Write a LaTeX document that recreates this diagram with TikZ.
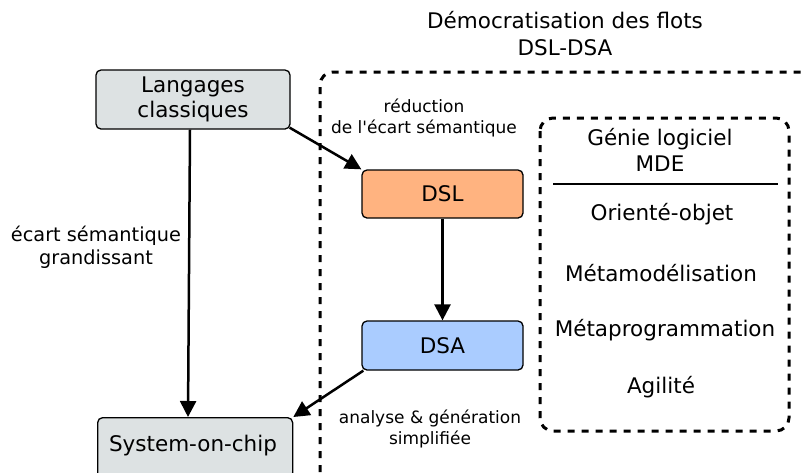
\documentclass[tikz,border=0pt]{standalone}
\usepackage{fontspec}
\setmainfont{DejaVu Sans}[Ligatures=TeXOff]
\usetikzlibrary{arrows.meta}
\definecolor{boxgray}{HTML}{DDE2E3}
\definecolor{dslorange}{HTML}{FFB380}
\definecolor{dsablue}{HTML}{AACCFF}
\tikzset{
  box/.style={draw=black, line width=1.3pt, rounded corners=5pt, align=center,
    font=\fontsize{21.5}{25}\selectfont, inner sep=0pt},
  conn/.style={line width=2.5pt, -{Triangle[length=16pt,width=16pt]}},
  zone/.style={line width=3pt, dash pattern=on 7pt off 7pt, rounded corners=13pt},
  lbl/.style={align=center, font=\fontsize{17}{21}\selectfont, inner sep=0pt},
  item/.style={align=center, font=\fontsize{21.5}{26}\selectfont, inner sep=0pt},
}
\begin{document}
\begin{tikzpicture}[x=1pt,y=-1pt]
\useasboundingbox (0,0) rectangle (805,472);

% outer region, open to the right and bottom
\draw[zone] (320,472) -- (320,72) -- (805,72);
% inner region
\draw[zone] (540,118) rectangle (789,431);

% boxes
\node[box, fill=boxgray, minimum width=194pt, minimum height=59pt] (lang) at (193,99.5) {Langages\\classiques};
\node[box, fill=boxgray, minimum width=195pt, minimum height=60pt, anchor=north west] (soc) at (97,417) {};
\node[font=\fontsize{21.5}{25}\selectfont] (soctxt) at (193,446) {System-on-chip};
\node[box, fill=dslorange, minimum width=161pt, minimum height=48pt] (dsl) at (442.5,194) {DSL};
\node[box, fill=dsablue, minimum width=161pt, minimum height=49pt] (dsa) at (442.5,345.5) {DSA};

% title
\node[align=center, font=\fontsize{21.5}{27}\selectfont] (title) at (565,34) {Démocratisation des flots\\DSL-DSA};

% labels
\node[lbl] (red) at (424,118) {réduction\\de l'écart sémantique};
\node[lbl, font=\fontsize{19.3}{23}\selectfont] (ecart) at (96,247) {écart sémantique\\grandissant};
\node[lbl] (ana) at (430,429) {analyse \& génération\\simplifiée};

% inner content
\node[item] (genie) at (660,150) {Génie logiciel\\MDE};
\coordinate (sepl) at (553,184);
\coordinate (sepr) at (778,184);
\draw[line width=2.2pt] (sepl) -- (sepr);
\node[item] (oo) at (662,214) {Orienté-objet};
\node[item] (meta) at (661,273) {Métamodélisation};
\node[item] (mprog) at (665,330) {Métaprogrammation};
\node[item] (agil) at (661,387) {Agilité};

% connectors
\draw[conn] (lang.south -| 190,0) -- (soc.north -| 188,0);
\draw[conn] (lang.south east) ++(-1,-2) -- (dsl.north west);
\draw[conn] (dsl.south) -- (dsa.north);
\draw[conn] (dsa.south west) ++(2,0) -- (soc.north east);
\end{tikzpicture}
\end{document}
